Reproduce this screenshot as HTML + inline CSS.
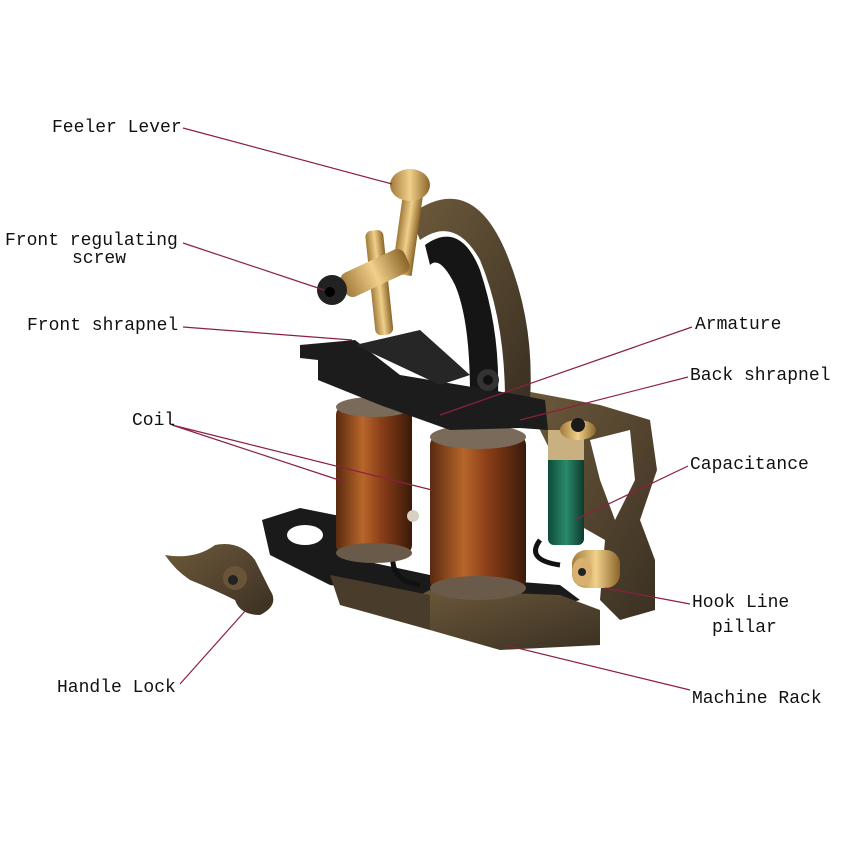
<!DOCTYPE html>
<html><head><meta charset="utf-8">
<style>
html,body{margin:0;padding:0;background:#fff;}
svg{display:block;}
text{font-family:"Liberation Mono","DejaVu Sans Mono",monospace;font-size:18px;fill:#111;}
</style></head>
<body>
<svg width="850" height="850" viewBox="0 0 850 850" xmlns="http://www.w3.org/2000/svg">
<defs>
<linearGradient id="coil" x1="0" x2="1" y1="0" y2="0">
<stop offset="0" stop-color="#5a2a10"/><stop offset="0.35" stop-color="#b8662a"/><stop offset="0.6" stop-color="#8a3e18"/><stop offset="1" stop-color="#3a1a0a"/>
</linearGradient>
<linearGradient id="bronze" x1="0" x2="1" y1="0" y2="1">
<stop offset="0" stop-color="#6e5a3c"/><stop offset="1" stop-color="#3a3022"/>
</linearGradient>
<linearGradient id="gold" x1="0" x2="1">
<stop offset="0" stop-color="#a27a3a"/><stop offset="0.5" stop-color="#f0d08a"/><stop offset="1" stop-color="#8a6428"/>
</linearGradient>
<linearGradient id="green" x1="0" x2="1">
<stop offset="0" stop-color="#0e4a3a"/><stop offset="0.5" stop-color="#2a8a6a"/><stop offset="1" stop-color="#0e3a2e"/>
</linearGradient>
</defs>

<path d="M262 520 L300 508 L360 520 L360 560 L430 575 L560 585 L580 600 L520 615 L430 600 L330 585 L270 555 Z" fill="#1a1a1a"/>
<ellipse cx="305" cy="535" rx="18" ry="10" fill="#fff"/>
<path d="M430 590 L560 595 L600 610 L600 645 L500 650 L430 630 L400 605 Z" fill="url(#bronze)"/>
<path d="M330 575 L430 595 L430 630 L340 605 Z" fill="#4a3c2a"/>
<path d="M520 390 L600 405 L650 420 L657 470 L640 520 L655 560 L655 610 L620 620 L600 600 L605 540 L570 520 L560 470 Z" fill="url(#bronze)"/>
<path d="M590 440 L630 430 L635 480 L615 520 L600 480 Z" fill="#fff"/>
<path d="M410 215 Q470 170 505 250 Q535 320 530 400 L505 400 Q505 320 480 260 Q455 215 420 240 Z" fill="url(#bronze)"/>
<path d="M425 245 Q460 220 480 270 Q500 330 498 395 L470 395 Q470 320 455 285 Q440 255 430 265 Z" fill="#151515"/>
<path d="M395 545 Q385 580 420 585 M540 540 Q525 560 560 565" stroke="#111" stroke-width="5" fill="none"/>
<rect x="336" y="405" width="76" height="150" rx="10" fill="url(#coil)"/>
<ellipse cx="374" cy="407" rx="38" ry="10" fill="#7a6a5a"/>
<ellipse cx="374" cy="553" rx="38" ry="10" fill="#6a5a4a"/>
<rect x="430" y="435" width="96" height="155" rx="10" fill="url(#coil)"/>
<ellipse cx="478" cy="437" rx="48" ry="12" fill="#7a6a5a"/>
<ellipse cx="478" cy="588" rx="48" ry="12" fill="#6a5a4a"/>
<circle cx="413" cy="516" r="6" fill="#d8d0c0"/>
<path d="M300 345 L355 340 L400 375 L520 395 L545 400 L548 430 L520 428 L450 430 L380 405 L318 380 L318 360 L300 358 Z" fill="#1c1c1c"/>
<path d="M355 345 L420 330 L470 375 L440 385 Z" fill="#262626"/>
<circle cx="488" cy="380" r="11" fill="#333"/><circle cx="488" cy="380" r="5" fill="#111"/>
<rect x="548" y="450" width="36" height="95" rx="6" fill="url(#green)"/>
<rect x="548" y="430" width="36" height="30" fill="#c8b080"/>
<ellipse cx="578" cy="430" rx="18" ry="10" fill="url(#gold)"/>
<circle cx="578" cy="425" r="7" fill="#1a1a1a"/>
<rect x="572" y="550" width="48" height="38" rx="14" fill="url(#gold)"/>
<ellipse cx="582" cy="572" rx="10" ry="14" fill="#d8b070"/>
<circle cx="582" cy="572" r="4" fill="#222"/>
<rect x="370" y="230" width="18" height="105" rx="6" fill="url(#gold)" transform="rotate(-6 380 280)"/>
<rect x="398" y="190" width="20" height="85" fill="url(#gold)" transform="rotate(8 408 230)"/>
<ellipse cx="410" cy="185" rx="20" ry="16" fill="url(#gold)"/>
<rect x="340" y="260" width="70" height="26" rx="8" fill="url(#gold)" transform="rotate(-25 375 273)"/>
<circle cx="332" cy="290" r="15" fill="#222"/><circle cx="330" cy="292" r="5" fill="#000"/>
<path d="M165 555 Q195 560 215 545 Q240 540 255 560 L270 590 Q280 605 260 615 Q240 615 235 600 Q215 590 190 580 Q175 570 165 555 Z" fill="url(#bronze)"/>
<circle cx="235" cy="578" r="12" fill="#6a5438"/><circle cx="233" cy="580" r="5" fill="#222"/>

<g stroke="#8b2040" stroke-width="1.2" fill="none">
<line x1="183" y1="128" x2="392" y2="184"/>
<line x1="183" y1="243" x2="324" y2="290"/>
<line x1="183" y1="327" x2="352" y2="340"/>
<line x1="692" y1="327" x2="440" y2="415"/>
<line x1="688" y1="377" x2="520" y2="420"/>
<line x1="172" y1="425" x2="345" y2="482"/>
<line x1="172" y1="425" x2="432" y2="490"/>
<line x1="688" y1="466" x2="575" y2="520"/>
<line x1="690" y1="604" x2="605" y2="588"/>
<line x1="180" y1="684" x2="246" y2="610"/>
<line x1="690" y1="690" x2="505" y2="645"/>
</g>

<text x="52" y="132">Feeler Lever</text>
<text x="5" y="245">Front regulating</text>
<text x="72" y="263">screw</text>
<text x="27" y="330">Front shrapnel</text>
<text x="132" y="425">Coil</text>
<text x="57" y="692">Handle Lock</text>
<text x="695" y="329">Armature</text>
<text x="690" y="380">Back shrapnel</text>
<text x="690" y="469">Capacitance</text>
<text x="692" y="607">Hook Line</text>
<text x="712" y="632">pillar</text>
<text x="692" y="703">Machine Rack</text>
</svg>
</body></html>
